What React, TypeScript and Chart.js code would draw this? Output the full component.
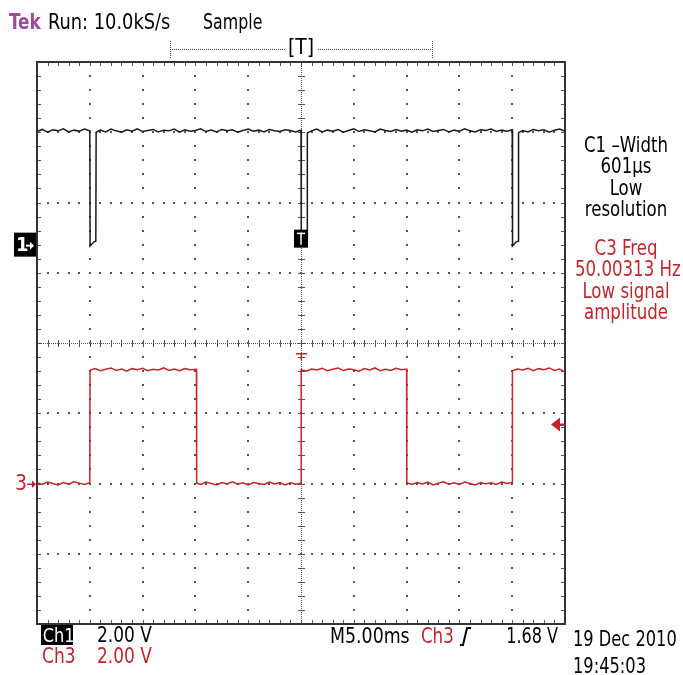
import React, { useEffect, useRef } from 'react';
import { Chart, registerables } from 'chart.js';

Chart.register(...registerables);

// ---- Data (time in ms, amplitude in volts) ----
const ch1Points: [number, number][] = [
  [-25.0, 3.22], [-24.5, 3.28], [-24.0, 3.20], [-23.5, 3.27], [-23.0, 3.24], [-22.5, 3.30], [-22.0, 3.21],
  [-21.5, 3.26], [-21.0, 3.23], [-20.5, 3.29], [-20.0, 3.24],
  [-19.97, -0.04], [-19.8, 0.02], [-19.6, 0.08], [-19.43, 0.10], [-19.4, 3.20],
  [-19.0, 3.26], [-18.5, 3.21], [-18.0, 3.29], [-17.5, 3.24], [-17.0, 3.20], [-16.5, 3.27], [-16.0, 3.23],
  [-15.5, 3.30], [-15.0, 3.22], [-14.5, 3.25], [-14.0, 3.28], [-13.5, 3.21], [-13.0, 3.26], [-12.5, 3.24],
  [-12.0, 3.29], [-11.5, 3.20], [-11.0, 3.27], [-10.5, 3.23], [-10.0, 3.25], [-9.5, 3.30], [-9.0, 3.22],
  [-8.5, 3.26], [-8.0, 3.21], [-7.5, 3.28], [-7.0, 3.24], [-6.5, 3.27], [-6.0, 3.20], [-5.5, 3.25],
  [-5.0, 3.29], [-4.5, 3.23], [-4.0, 3.26], [-3.5, 3.21], [-3.0, 3.28], [-2.5, 3.24], [-2.0, 3.22],
  [-1.5, 3.27], [-1.0, 3.25], [-0.5, 3.21], [0.0, 3.26],
  [0.03, -0.04], [0.2, 0.02], [0.4, 0.07], [0.57, 0.10], [0.6, 3.18],
  [1.0, 3.24], [1.5, 3.29], [2.0, 3.21], [2.5, 3.26], [3.0, 3.23], [3.5, 3.28], [4.0, 3.20], [4.5, 3.25],
  [5.0, 3.30], [5.5, 3.22], [6.0, 3.27], [6.5, 3.24], [7.0, 3.21], [7.5, 3.29], [8.0, 3.25], [8.5, 3.22],
  [9.0, 3.28], [9.5, 3.23], [10.0, 3.26], [10.5, 3.20], [11.0, 3.27], [11.5, 3.24], [12.0, 3.29],
  [12.5, 3.22], [13.0, 3.25], [13.5, 3.28], [14.0, 3.21], [14.5, 3.26], [15.0, 3.23], [15.5, 3.30],
  [16.0, 3.24], [16.5, 3.21], [17.0, 3.27], [17.5, 3.25], [18.0, 3.29], [18.5, 3.22], [19.0, 3.26],
  [19.5, 3.23], [20.0, 3.27],
  [20.03, -0.04], [20.2, 0.02], [20.4, 0.08], [20.57, 0.10], [20.6, 3.19],
  [21.0, 3.25], [21.5, 3.21], [22.0, 3.28], [22.5, 3.24], [23.0, 3.27], [23.5, 3.20], [24.0, 3.26],
  [24.5, 3.29], [25.0, 3.23],
];

const ch3Points: [number, number][] = [
  [-25.0, 0.02], [-24.5, -0.03], [-24.0, 0.04], [-23.5, 0.00], [-23.0, -0.04], [-22.5, 0.03], [-22.0, -0.02],
  [-21.5, 0.05], [-21.0, 0.01], [-20.5, -0.03], [-20.0, 0.02],
  [-19.98, 3.22], [-19.5, 3.27], [-19.0, 3.21], [-18.5, 3.25], [-18.0, 3.29], [-17.5, 3.22], [-17.0, 3.26],
  [-16.5, 3.20], [-16.0, 3.27], [-15.5, 3.24], [-15.0, 3.28], [-14.5, 3.21], [-14.0, 3.25], [-13.5, 3.23],
  [-13.0, 3.29], [-12.5, 3.22], [-12.0, 3.26], [-11.5, 3.21], [-11.0, 3.27], [-10.5, 3.24], [-9.9, 3.25],
  [-9.88, 0.01], [-9.5, -0.03], [-9.0, 0.04], [-8.5, 0.00], [-8.0, -0.04], [-7.5, 0.03], [-7.0, -0.01],
  [-6.5, 0.05], [-6.0, -0.02], [-5.5, 0.02], [-5.0, -0.04], [-4.5, 0.03], [-4.0, 0.00], [-3.5, -0.03],
  [-3.0, 0.04], [-2.5, -0.01], [-2.0, 0.03], [-1.5, -0.04], [-1.0, 0.02], [-0.5, -0.02], [0.0, 0.01],
  [0.02, 3.24], [0.5, 3.20], [1.0, 3.26], [1.5, 3.23], [2.0, 3.28], [2.5, 3.21], [3.0, 3.25], [3.5, 3.29],
  [4.0, 3.22], [4.5, 3.26], [5.0, 3.24], [5.5, 3.20], [6.0, 3.27], [6.5, 3.23], [7.0, 3.29], [7.5, 3.21],
  [8.0, 3.25], [8.5, 3.22], [9.0, 3.28], [9.5, 3.24], [10.0, 3.26],
  [10.02, 0.02], [10.5, -0.03], [11.0, 0.03], [11.5, -0.01], [12.0, 0.04], [12.5, -0.04], [13.0, 0.01],
  [13.5, 0.05], [14.0, -0.02], [14.5, 0.02], [15.0, -0.03], [15.5, 0.04], [16.0, 0.00], [16.5, -0.04],
  [17.0, 0.03], [17.5, -0.01], [18.0, 0.02], [18.5, -0.03], [19.0, 0.04], [19.5, 0.00], [20.0, 0.03],
  [20.02, 3.21], [20.5, 3.26], [21.0, 3.23], [21.5, 3.28], [22.0, 3.21], [22.5, 3.27], [23.0, 3.24],
  [23.5, 3.29], [24.0, 3.22], [24.5, 3.26], [25.0, 3.17],
];

const ch1OffsetDiv = 1.4;
const ch3OffsetDiv = -2.0;
const ch1VoltsPerDiv = 2.0;
const ch3VoltsPerDiv = 2.0;
const triggerLevelV = 1.68;
const msPerDiv = 5;
const xDivisions = 10;
const yDivisions = 8;

const rightPanelBlack = ['C1 \u2013Width', '601\u00b5s', 'Low', 'resolution'];
const rightPanelRed = ['C3 Freq', '50.00313 Hz', 'Low signal', 'amplitude'];

// ---- Styles ----
const FONT = '"DejaVu Sans Condensed", "Liberation Sans Narrow", "Open Sans", sans-serif';
const RED = '#c0262d';
const PURPLE = '#9a4a9f';
const INK = '#000000';
const GRID = '#555555';

const toDiv = (pts: [number, number][], offset: number, vpd: number) =>
  pts.map(([t, v]) => ({ x: t, y: offset + v / vpd }));

const graticule = {
  id: 'graticule',
  beforeDatasetsDraw(chart: any) {
    const { ctx, chartArea: a, scales } = chart;
    const xs = scales.x;
    const ys = scales.y;
    const halfX = xDivisions / 2;
    const halfY = yDivisions / 2;
    ctx.save();
    ctx.fillStyle = GRID;
    const cx = Math.round(xs.getPixelForValue(0));
    const cy = Math.round(ys.getPixelForValue(0));
    for (let i = -halfX + 1; i < halfX; i++) {
      if (i === 0) continue;
      const px = Math.round(xs.getPixelForValue(i * msPerDiv));
      for (let k = -halfY * 5 + 1; k < halfY * 5; k++) {
        const py = Math.round(ys.getPixelForValue(k / 5));
        ctx.fillRect(px - 1, py - 1, 2, 2);
      }
    }
    for (let j = -halfY + 1; j < halfY; j++) {
      if (j === 0) continue;
      const py = Math.round(ys.getPixelForValue(j));
      for (let k = -halfX * 5 + 1; k < halfX * 5; k++) {
        const px = Math.round(xs.getPixelForValue((k / 5) * msPerDiv));
        ctx.fillRect(px - 1, py - 1, 2, 2);
      }
    }
    for (let px = Math.ceil(a.left) + 2; px < a.right - 1; px += 2) ctx.fillRect(px, cy, 1, 1);
    for (let py = Math.ceil(a.top) + 2; py < a.bottom - 1; py += 2) ctx.fillRect(cx, py, 1, 1);
    for (let k = -halfX * 5 + 1; k < halfX * 5; k++) {
      const px = Math.round(xs.getPixelForValue((k / 5) * msPerDiv));
      ctx.fillRect(px, cy - 3, 1, 7);
      ctx.fillRect(px, a.top, 1, 4);
      ctx.fillRect(px, a.bottom - 4, 1, 4);
    }
    for (let k = -halfY * 5 + 1; k < halfY * 5; k++) {
      const py = Math.round(ys.getPixelForValue(k / 5));
      ctx.fillRect(cx - 3, py, 7, 1);
      ctx.fillRect(a.left, py, 4, 1);
      ctx.fillRect(a.right - 4, py, 4, 1);
    }
    ctx.strokeStyle = '#333333';
    ctx.lineWidth = 2;
    ctx.strokeRect(a.left, a.top, a.right - a.left, a.bottom - a.top);

    // record bar at top
    ctx.fillStyle = '#444444';
    const barY = 49;
    for (let px = 170; px <= 432; px += 2) {
      if (px > 284 && px < 318) continue;
      ctx.fillRect(px, barY, 1, 1);
    }
    for (let py = 41; py <= 57; py += 2) {
      ctx.fillRect(170, py, 1, 1);
      ctx.fillRect(432, py, 1, 1);
    }
    ctx.restore();
  },
  afterDatasetsDraw(chart: any) {
    const { ctx, chartArea: a, scales } = chart;
    const xs = scales.x;
    const ys = scales.y;
    ctx.save();
    // Ch1 ground marker
    const g1 = ys.getPixelForValue(ch1OffsetDiv);
    ctx.fillStyle = '#000';
    ctx.fillRect(a.left - 23, g1 - 12, 22, 24);
    ctx.fillStyle = '#fff';
    ctx.font = `bold 20px ${FONT}`;
    ctx.textBaseline = 'middle';
    ctx.textAlign = 'left';
    ctx.fillText('1', a.left - 21, g1 + 1);
    ctx.fillRect(a.left - 11, g1, 7, 2);
    ctx.beginPath();
    ctx.moveTo(a.left - 3, g1 + 1);
    ctx.lineTo(a.left - 7, g1 - 3);
    ctx.lineTo(a.left - 7, g1 + 5);
    ctx.closePath();
    ctx.fill();
    // Ch3 ground marker
    const g3 = ys.getPixelForValue(ch3OffsetDiv);
    ctx.fillStyle = RED;
    ctx.font = `21px ${FONT}`;
    ctx.fillText('3', a.left - 22, g3 + 1);
    ctx.fillRect(a.left - 10, g3, 8, 1.5);
    ctx.beginPath();
    ctx.moveTo(a.left - 1, g3 + 0.75);
    ctx.lineTo(a.left - 5, g3 - 3);
    ctx.lineTo(a.left - 5, g3 + 4.5);
    ctx.closePath();
    ctx.fill();
    // trigger position box on ch1
    const tx = xs.getPixelForValue(0);
    ctx.fillStyle = '#000';
    ctx.fillRect(tx - 7, g1 - 15, 14, 18);
    ctx.fillStyle = '#fff';
    ctx.fillRect(tx - 4, g1 - 12, 8, 1.5);
    ctx.fillRect(tx - 0.75, g1 - 12, 1.5, 12);
    // red trigger marker on ch3
    const cy = ys.getPixelForValue(0);
    ctx.fillStyle = RED;
    ctx.fillRect(tx - 5, cy + 10, 11, 1.5);
    ctx.fillRect(tx - 0.5, cy + 10, 1.5, 7);
    // trigger level arrow
    const tl = ys.getPixelForValue(ch3OffsetDiv + triggerLevelV / ch3VoltsPerDiv);
    ctx.beginPath();
    ctx.moveTo(a.right - 14, tl);
    ctx.lineTo(a.right - 5, tl - 7);
    ctx.lineTo(a.right - 5, tl + 7);
    ctx.closePath();
    ctx.fill();
    ctx.fillRect(a.right - 6, tl - 1, 6, 2.5);
    // trigger slope icon
    ctx.strokeStyle = INK;
    ctx.lineWidth = 2;
    ctx.beginPath();
    ctx.moveTo(460, 645);
    ctx.lineTo(463, 645);
    ctx.lineTo(467, 628);
    ctx.lineTo(471, 628);
    ctx.stroke();
    ctx.restore();
  },
};

type LabelProps = {
  x: number; cy: number; color?: string; size?: number; children: React.ReactNode;
  align?: 'left' | 'center' | 'right'; width?: number; sx?: number; bold?: boolean;
};

function Label({ x, cy, color = INK, size = 21, children, align = 'left', width, sx = 0.88, bold = false }: LabelProps) {
  const lh = 24;
  return (
    <div
      style={{
        position: 'absolute',
        left: x,
        top: cy - lh / 2,
        width: width,
        lineHeight: `${lh}px`,
        height: lh,
        fontFamily: FONT,
        fontSize: size,
        fontWeight: bold ? 'bold' : 'normal',
        color,
        whiteSpace: 'nowrap',
        textAlign: align,
        transform: `scaleX(${sx})`,
        transformOrigin: align === 'left' ? 'left center' : align === 'right' ? 'right center' : 'center center',
      }}
    >
      {children}
    </div>
  );
}

export default function App() {
  const canvasRef = useRef<HTMLCanvasElement | null>(null);

  useEffect(() => {
    const canvas = canvasRef.current;
    if (!canvas) return;
    const chart = new Chart(canvas, {
      type: 'scatter',
      data: {
        datasets: [
          {
            label: 'Ch1',
            data: toDiv(ch1Points, ch1OffsetDiv, ch1VoltsPerDiv),
            showLine: true,
            borderColor: '#1a1a1a',
            borderWidth: 1.5,
            pointRadius: 0,
            tension: 0,
          },
          {
            label: 'Ch3',
            data: toDiv(ch3Points, ch3OffsetDiv, ch3VoltsPerDiv),
            showLine: true,
            borderColor: RED,
            borderWidth: 1.5,
            pointRadius: 0,
            tension: 0,
          },
        ],
      },
      options: {
        animation: false,
        responsive: false,
        devicePixelRatio: 1,
        layout: { padding: { left: 37, top: 62, right: 118, bottom: 51 } },
        scales: {
          x: { type: 'linear', min: -msPerDiv * xDivisions / 2, max: msPerDiv * xDivisions / 2, display: false },
          y: { type: 'linear', min: -yDivisions / 2, max: yDivisions / 2, display: false },
        },
        plugins: { legend: { display: false }, tooltip: { enabled: false } },
        events: [],
      },
      plugins: [graticule],
    });
    return () => chart.destroy();
  }, []);

  return (
    <div style={{ position: 'absolute', left: 0, top: 0, width: 683, height: 675, background: '#fff', overflow: 'hidden' }}>
      <canvas ref={canvasRef} width={683} height={675} style={{ position: 'absolute', left: 0, top: 0 }} />
      <Label x={9} cy={22} color={PURPLE} size={22} bold sx={0.85}>Tek</Label>
      <Label x={48} cy={22} size={22} sx={0.9}>Run: 10.0kS/s</Label>
      <Label x={203} cy={22} size={22} sx={0.8}>Sample</Label>
      <Label x={276} cy={47} width={50} align="center" size={22} sx={0.95}>[T]</Label>
      {rightPanelBlack.map((t, i) => (
        <Label key={t} x={568} width={116} align="center" cy={145 + i * 21.3}>{t}</Label>
      ))}
      {rightPanelRed.map((t, i) => (
        <Label key={t} x={568} width={116} align="center" color={RED} cy={248 + i * 21.3}>{t}</Label>
      ))}
      <div
        style={{
          position: 'absolute', left: 41, top: 625, width: 32, height: 20, background: '#000', color: '#fff',
          fontFamily: FONT, fontSize: 20, lineHeight: '20px', textAlign: 'center',
        }}
      >
        <span style={{ display: 'inline-block', transform: 'scaleX(0.9)' }}>Ch1</span>
      </div>
      <Label x={97} cy={635} sx={0.9}>2.00 V</Label>
      <Label x={42} cy={656} color={RED} sx={0.9}>Ch3</Label>
      <Label x={97} cy={656} color={RED} sx={0.9}>2.00 V</Label>
      <Label x={330} cy={636} sx={0.92}>M5.00ms</Label>
      <Label x={421} cy={636} color={RED} sx={0.88}>Ch3</Label>
      <Label x={480} cy={636} width={78} align="right" sx={0.85}>1.68 V</Label>
      <Label x={573} cy={639} sx={0.86}>19 Dec 2010</Label>
      <Label x={573} cy={666} sx={0.86}>19:45:03</Label>
    </div>
  );
}
